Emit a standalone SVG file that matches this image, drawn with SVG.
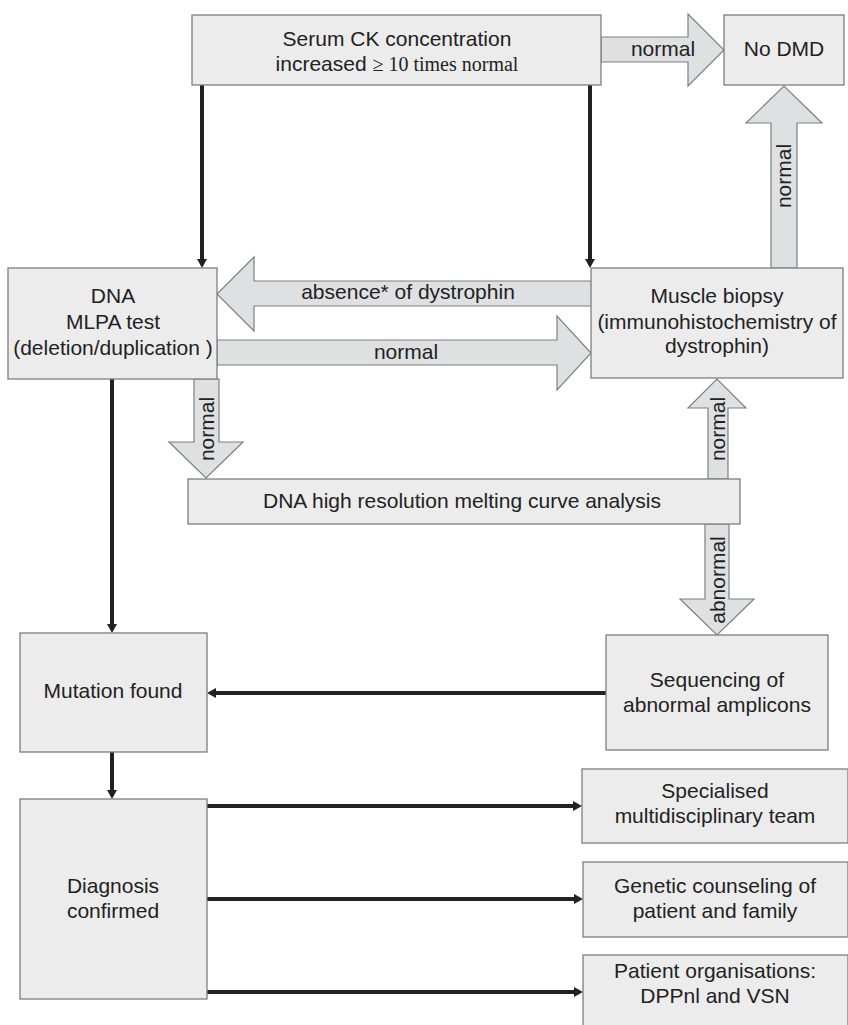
<svg xmlns="http://www.w3.org/2000/svg" width="848" height="1025" viewBox="0 0 848 1025">
<style>
.box{fill:#ececec;stroke:#7f7f7f;stroke-width:1.3}
.blk{fill:#dfe0e2;stroke:#7f7f7f;stroke-width:1.2}
.t{font-family:"Liberation Sans",Arial,sans-serif;font-size:21px;fill:#222;text-anchor:middle}
.c{stroke:#222;stroke-width:4;fill:none;marker-end:url(#ah)}
</style>
<defs>
<marker id="ah" viewBox="0 0 9 10" markerWidth="9" markerHeight="10" refX="3" refY="5" orient="auto" markerUnits="userSpaceOnUse">
<path d="M0,0 L9,5 L0,10 z" fill="#222"/>
</marker>
</defs>
<rect width="848" height="1025" fill="#fff"/>
<g id="connectors">
<line class="c" x1="202" y1="85" x2="202" y2="262"/>
<line class="c" x1="590" y1="85" x2="590" y2="262"/>
<line class="c" x1="112" y1="379" x2="112" y2="627"/>
<line class="c" x1="606" y1="693" x2="213" y2="693"/>
<line class="c" x1="112" y1="752" x2="112" y2="793"/>
<line class="c" x1="207" y1="806" x2="576" y2="806"/>
<line class="c" x1="207" y1="899" x2="577" y2="899"/>
<line class="c" x1="207" y1="992" x2="577" y2="992"/>
<polygon class="blk" points="601,37 688,37 688,14 724,50 688,86 688,62 601,62"/>
<text class="t" x="663" y="56">normal</text>
<polygon class="blk" points="771,268 771,123 746,123 784,86 822,123 797,123 797,268"/>
<text class="t" transform="translate(791,176) rotate(-90)">normal</text>
<polygon class="blk" points="593,281 254,281 254,257 217,294 254,331 254,306 593,306"/>
<text class="t" x="408" y="299">absence* of dystrophin</text>
<polygon class="blk" points="217,340 557,340 557,316 591,353 557,390 557,365 217,365"/>
<text class="t" x="406" y="359">normal</text>
<polygon class="blk" points="194,379 194,442 169,442 206,478 243,442 219,442 219,379"/>
<text class="t" transform="translate(214,429) rotate(-90)">normal</text>
<polygon class="blk" points="708,479 708,408 688,408 717,379 746,408 728,408 728,479"/>
<text class="t" transform="translate(725,429) rotate(-90)">normal</text>
<polygon class="blk" points="705,524 705,599 680,599 717,635 754,599 729,599 729,524"/>
<text class="t" transform="translate(725,580) rotate(-90)">abnormal</text>
</g>
<g id="serum">
<rect class="box" x="192" y="15" width="409" height="70"/>
<text class="t" x="397" y="46">Serum CK concentration</text>
<text class="t" x="397" y="71">increased <tspan font-family="'Liberation Serif','Times New Roman',serif" font-size="20">≥ 10 times normal</tspan></text>
</g>
<g id="nodmd">
<rect class="box" x="724" y="15" width="120" height="70"/>
<text class="t" x="784" y="56">No DMD</text>
</g>
<g id="dna">
<rect class="box" x="8" y="268" width="209" height="111"/>
<text class="t" x="113" y="303">DNA</text>
<text class="t" x="113" y="329">MLPA test</text>
<text class="t" x="113" y="355">(deletion/duplication )</text>
</g>
<g id="muscle">
<rect class="box" x="591" y="268" width="252" height="110"/>
<text class="t" x="717" y="303">Muscle biopsy</text>
<text class="t" x="717" y="329">(immunohistochemistry of</text>
<text class="t" x="717" y="353">dystrophin)</text>
</g>
<g id="hrm">
<rect class="box" x="188" y="479" width="552" height="45"/>
<text class="t" x="462" y="508">DNA high resolution melting curve analysis</text>
</g>
<g id="mutation">
<rect class="box" x="20" y="633" width="187" height="119"/>
<text class="t" x="113" y="698">Mutation found</text>
</g>
<g id="sequencing">
<rect class="box" x="606" y="635" width="222" height="115"/>
<text class="t" x="717" y="687">Sequencing of</text>
<text class="t" x="717" y="712">abnormal amplicons</text>
</g>
<g id="diagnosis">
<rect class="box" x="20" y="799" width="187" height="200"/>
<text class="t" x="113" y="893">Diagnosis</text>
<text class="t" x="113" y="918">confirmed</text>
</g>
<g id="specialised">
<rect class="box" x="582" y="769" width="266" height="74"/>
<text class="t" x="715" y="798">Specialised</text>
<text class="t" x="715" y="823">multidisciplinary team</text>
</g>
<g id="genetic">
<rect class="box" x="583" y="862" width="265" height="75"/>
<text class="t" x="715" y="893">Genetic counseling of</text>
<text class="t" x="715" y="918">patient and family</text>
</g>
<g id="patient">
<rect class="box" x="583" y="955" width="265" height="75"/>
<text class="t" x="715" y="978">Patient organisations:</text>
<text class="t" x="715" y="1003">DPPnl and VSN</text>
</g>
</svg>
